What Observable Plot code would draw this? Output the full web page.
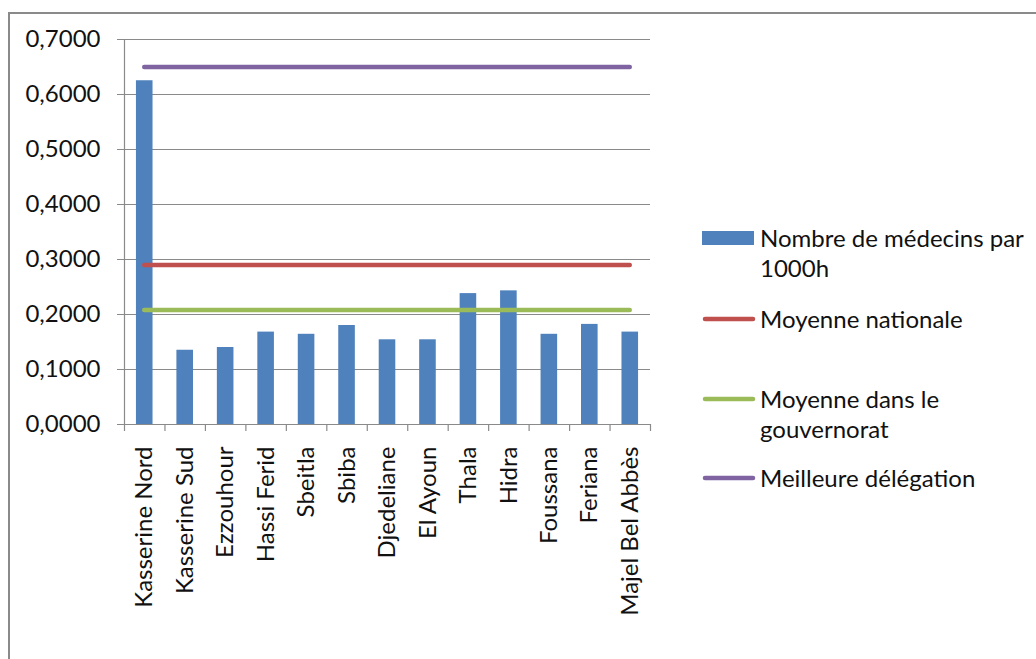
<!DOCTYPE html>
<html><head><meta charset="utf-8">
<script src="https://cdn.jsdelivr.net/npm/d3@7"></script>
<script src="https://cdn.jsdelivr.net/npm/@observablehq/plot@0.6"></script>
<style>
body{margin:0;background:#fff;}
#wrap{position:relative;width:1036px;height:659px;overflow:hidden;font-family:Lato,"Open Sans",sans-serif;}
#frame{position:absolute;left:8px;top:12px;width:1100px;height:700px;border:2px solid #8a8a8a;box-sizing:border-box;}
#chart{position:absolute;left:0;top:0;}
.leg{position:absolute;left:702px;font-size:24px;color:#111;line-height:30px;}
.leg svg{position:absolute;left:0;}
.leg span{position:absolute;left:58px;white-space:nowrap;}
</style></head>
<body><div id="wrap"><div id="frame"></div><div id="chart"></div><div id="legend"></div></div>
<script>
const categories = ["Kasserine Nord","Kasserine Sud","Ezzouhour","Hassi Ferid","Sbeitla","Sbiba","Djedeliane","El Ayoun","Thala","Hidra","Foussana","Feriana","Majel Bel Abbès"];
const medecins = [0.625,0.135,0.140,0.168,0.164,0.180,0.154,0.154,0.238,0.243,0.164,0.182,0.168];
const moyenneNationale = 0.290;
const moyenneGouvernorat = 0.208;
const meilleureDelegation = 0.650;
const yTicks = [0,0.1,0.2,0.3,0.4,0.5,0.6,0.7];
const seriesNames = ["Nombre de médecins par 1000h","Moyenne nationale","Moyenne dans le gouvernorat","Meilleure délégation"];
const colors = ["#4f81bd","#c0504d","#9bbb59","#8064a2"];

const data = categories.map((c,i)=>({c, i, v: medecins[i]}));
const idx = d3.range(categories.length);
const bounds = d3.range(categories.length+1).map(i=>i-0.5);
const refs = [
  {v: moyenneNationale, color: colors[1]},
  {v: moyenneGouvernorat, color: colors[2]},
  {v: meilleureDelegation, color: colors[3]}
];
const fmt = d => d.toFixed(4).replace(".", ",");
const grey = "#8a8a8a";

const plot = Plot.plot({
  width: 700, height: 659,
  marginLeft: 124, marginRight: 50, marginTop: 39, marginBottom: 235,
  style: {fontFamily: "Lato, 'Open Sans', sans-serif", fontSize: "24px", color: "#111", background: "transparent", overflow: "visible"},
  x: {type: "linear", domain: [-0.5, categories.length-0.5], label: null},
  y: {domain: [0, 0.7], label: null},
  marks: [
    Plot.ruleY(yTicks, {stroke: grey, strokeWidth: 1.2, insetLeft: -7}),
    Plot.rectY(data, {x1: d=>d.i-0.205, x2: d=>d.i+0.205, y: "v", fill: colors[0]}),
    Plot.ruleY(refs, {y: "v", x1: 0, x2: categories.length-1, stroke: "color", strokeWidth: 4.5, strokeLinecap: "round"}),
    Plot.ruleX([-0.5], {stroke: grey, strokeWidth: 1.2}),
    Plot.axisY({ticks: yTicks, tickFormat: fmt, tickSize: 0, tickPadding: 24, fill: "#111", fontSize: 24, label: null}),
    Plot.axisX({ticks: bounds, tickFormat: () => "", tickSize: 7, stroke: grey, strokeWidth: 1.2, label: null}),
    Plot.axisX({ticks: idx, tickFormat: i => categories[i], tickSize: 0, tickPadding: 22, tickRotate: -90, fill: "#111", fontSize: 24, label: null})
  ]
});
document.getElementById("chart").appendChild(plot);

const legendY = [{y:238, lines:["Nombre de médecins par","1000h"], t:"rect"},
                 {y:319, lines:["Moyenne nationale"], t:"line"},
                 {y:399, lines:["Moyenne dans le","gouvernorat"], t:"line"},
                 {y:478, lines:["Meilleure délégation"], t:"line"}];
const leg = document.getElementById("legend");
legendY.forEach((it,k)=>{
  const div = document.createElement("div");
  div.className = "leg";
  div.style.top = (it.y - 15) + "px";
  const sw = it.t==="rect"
    ? `<svg width="54" height="30" style="top:0"><rect x="0" y="8" width="52" height="14" fill="${colors[k]}"/></svg>`
    : `<svg width="54" height="30" style="top:0"><line x1="3" x2="51" y1="15" y2="15" stroke="${colors[k]}" stroke-width="4.5" stroke-linecap="round"/></svg>`;
  div.innerHTML = sw + `<span>${it.lines.join("<br>")}</span>`;
  leg.appendChild(div);
});
</script></body></html>
